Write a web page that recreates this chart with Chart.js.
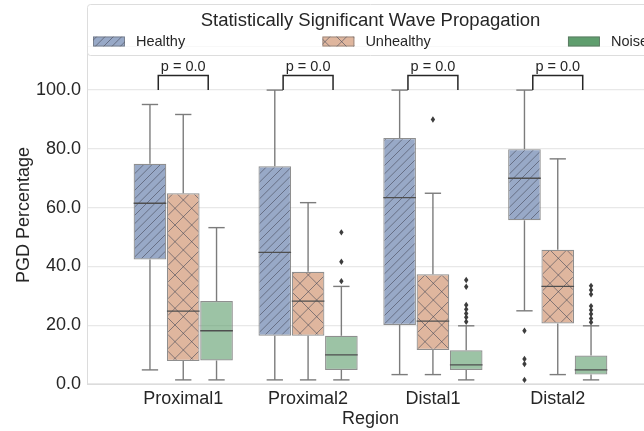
<!DOCTYPE html>
<html>
<head>
<meta charset="utf-8">
<script src="https://cdn.jsdelivr.net/npm/chart.js@4.4.1/dist/chart.umd.min.js"></script>
<style>
  html, body { margin: 0; padding: 0; background: #ffffff; overflow: hidden; }
  #wrap { width: 644px; height: 431px; overflow: hidden; position: relative; }
  #holder { position: absolute; left: 0; top: 0; width: 700px; height: 431px; }
</style>
</head>
<body>
<div id="wrap"><div id="holder"><canvas id="chart" width="700" height="431"></canvas></div></div>
<script>
// Regions on the x axis and the three recording groups
const regions = ['Proximal1', 'Proximal2', 'Distal1', 'Distal2'];
const groups = ['Healthy', 'Unhealthy', 'Noise'];

// Box statistics per region (PGD percentage)
const healthyLow  = [4.8, 1.4, 3.2, 24.9];
const healthyQ1   = [42.4, 16.4, 20.1, 55.7];
const healthyMed  = [61.5, 44.8, 63.4, 70.0];
const healthyQ3   = [74.9, 74.1, 83.7, 79.9];
const healthyHigh = [95.1, 100.0, 100.0, 100.0];
const healthyOut  = [[], [], [], [18.1, 8.5, 6.8, 1.4]];

const unhealthyLow  = [1.4, 1.4, 3.2, 3.2];
const unhealthyQ1   = [7.8, 16.4, 11.6, 20.6];
const unhealthyMed  = [24.8, 28.2, 21.4, 33.2];
const unhealthyQ3   = [64.9, 38.2, 37.3, 45.7];
const unhealthyHigh = [91.7, 61.7, 64.9, 76.6];
const unhealthyOut  = [[], [], [90.0], []];

const noiseLow  = [1.4, 1.4, 1.4, 1.4];
const noiseQ1   = [8.0, 4.8, 4.8, 3.2];
const noiseMed  = [18.1, 9.9, 6.5, 4.8];
const noiseQ3   = [28.2, 16.4, 11.5, 9.7];
const noiseHigh = [53.2, 33.2, 19.8, 19.8];
const noiseOut  = [[], [51.6, 41.6, 35.0],
                   [35.4, 33.1, 26.9, 25.4, 24.0, 22.7, 21.2],
                   [33.4, 32.0, 30.5, 26.5, 25.2, 23.8, 22.3, 21.0]];

// Significance annotations (Healthy vs Unhealthy) per region
const pLabels = ['p = 0.0', 'p = 0.0', 'p = 0.0', 'p = 0.0'];
const bracketBase = [100, 100, 100, 100];
const bracketTop  = [105, 105, 105, 105];

const yTicks = [0, 20, 40, 60, 80, 100];

const stats = [
  { low: healthyLow, q1: healthyQ1, med: healthyMed, q3: healthyQ3, high: healthyHigh, out: healthyOut },
  { low: unhealthyLow, q1: unhealthyQ1, med: unhealthyMed, q3: unhealthyQ3, high: unhealthyHigh, out: unhealthyOut },
  { low: noiseLow, q1: noiseQ1, med: noiseMed, q3: noiseQ3, high: noiseHigh, out: noiseOut }
];

const FONT = "'Liberation Sans', Arial, Helvetica, sans-serif";
const TEXT = '#262626';
const GRID = '#e8e8e8';
const SPINE = '#dcdcdc';
const WHISKER = '#7c7c7c';
const MEDIAN = '#4f4f4f';

const fills = ['rgba(88,117,164,0.62)', 'rgba(204,137,99,0.62)', 'rgba(95,158,110,0.62)'];
const solid = ['#5875a4', '#cc8963', '#5f9e6e'];
const hatches = ['//', 'x', ''];

// Build a fill pattern: solid colour plus matplotlib-like hatch lines
function makePattern(fill, hatch) {
  const size = 100;
  const c = document.createElement('canvas');
  c.width = size; c.height = size;
  const g = c.getContext('2d');
  g.fillStyle = '#ffffff';
  g.fillRect(0, 0, size, size);
  g.fillStyle = fill;
  g.fillRect(0, 0, size, size);
  g.strokeStyle = 'rgba(70,74,88,0.6)';
  g.lineWidth = 1;
  const ne = (hatch.match(/[\/x]/g) || []).length * 6;
  const nw = (hatch.match(/[\\x]/g) || []).length * 6;
  g.beginPath();
  if (ne > 0) {
    const step = size / ne;
    for (let k = -ne; k <= 2 * ne; k++) {
      const o = k * step;
      g.moveTo(o - size, 2 * size);
      g.lineTo(o + 2 * size, -size);
    }
  }
  if (nw > 0) {
    const step = size / nw;
    for (let k = -nw; k <= 2 * nw; k++) {
      const o = k * step;
      g.moveTo(o - size, -size);
      g.lineTo(o + 2 * size, 2 * size);
    }
  }
  g.stroke();
  return g.createPattern(c, 'repeat');
}

const patternFills = fills.map((f, i) => hatches[i] ? makePattern(f, hatches[i]) : f);

const datasets = groups.map((name, d) => ({
  label: name,
  data: regions.map((r, i) => ({ x: i, y: [stats[d].q1[i], stats[d].q3[i]] })),
  backgroundColor: patternFills[d],
  borderColor: 'rgba(95,95,95,0.7)',
  borderWidth: 1.2,
  borderSkipped: false,
  categoryPercentage: 0.8,
  barPercentage: 0.98
}));

function strokeLine(ctx, x1, y1, x2, y2) {
  ctx.beginPath();
  ctx.moveTo(x1, y1);
  ctx.lineTo(x2, y2);
  ctx.stroke();
}

// Whiskers, caps, medians and outliers around each box
const boxDecor = {
  id: 'boxDecor',
  afterDatasetsDraw(chart) {
    const ctx = chart.ctx;
    const ys = chart.scales.y;
    ctx.save();
    stats.forEach((s, d) => {
      const meta = chart.getDatasetMeta(d);
      meta.data.forEach((bar, i) => {
        const cx = bar.x, w = bar.width;
        const yq1 = ys.getPixelForValue(s.q1[i]);
        const yq3 = ys.getPixelForValue(s.q3[i]);
        const ylo = ys.getPixelForValue(s.low[i]);
        const yhi = ys.getPixelForValue(s.high[i]);
        const ymed = ys.getPixelForValue(s.med[i]);
        ctx.strokeStyle = WHISKER;
        ctx.lineWidth = 1.4;
        strokeLine(ctx, cx, yq3, cx, yhi);
        strokeLine(ctx, cx, yq1, cx, ylo);
        strokeLine(ctx, cx - w / 4, yhi, cx + w / 4, yhi);
        strokeLine(ctx, cx - w / 4, ylo, cx + w / 4, ylo);
        ctx.strokeStyle = MEDIAN;
        strokeLine(ctx, cx - w / 2, ymed, cx + w / 2, ymed);
        ctx.fillStyle = '#3d3d3d';
        s.out[i].forEach(v => {
          const py = ys.getPixelForValue(v);
          ctx.beginPath();
          ctx.moveTo(cx, py - 3.2);
          ctx.lineTo(cx + 2.2, py);
          ctx.lineTo(cx, py + 3.2);
          ctx.lineTo(cx - 2.2, py);
          ctx.closePath();
          ctx.fill();
        });
      });
    });

    // significance brackets
    const xs = chart.scales.x;
    ctx.strokeStyle = '#262626';
    ctx.lineWidth = 1.5;
    ctx.fillStyle = TEXT;
    ctx.font = '14.5px ' + FONT;
    ctx.textAlign = 'center';
    ctx.textBaseline = 'alphabetic';
    regions.forEach((r, i) => {
      const x1 = xs.getPixelForValue(i - 0.2);
      const x2 = xs.getPixelForValue(i + 0.2);
      const yb = ys.getPixelForValue(bracketBase[i]);
      const yt = ys.getPixelForValue(bracketTop[i]);
      ctx.beginPath();
      ctx.moveTo(x1, yb);
      ctx.lineTo(x1, yt);
      ctx.lineTo(x2, yt);
      ctx.lineTo(x2, yb);
      ctx.stroke();
      ctx.fillText(pLabels[i], (x1 + x2) / 2, yt - 4.5);
    });
    ctx.restore();
  }
};

// Top spine and the framed legend with its title
const frameAndLegend = {
  id: 'frameAndLegend',
  beforeDatasetsDraw(chart) {
    const { ctx, chartArea } = chart;
    ctx.save();
    ctx.strokeStyle = SPINE;
    ctx.lineWidth = 1;
    strokeLine(ctx, chartArea.left, chartArea.top + 0.5, chartArea.right, chartArea.top + 0.5);
    ctx.restore();
  },
  afterDraw(chart) {
    const { ctx, chartArea } = chart;
    const L = chartArea.left, R = chartArea.right;
    const top = 4, bottom = 55;
    ctx.save();
    ctx.beginPath();
    if (ctx.roundRect) ctx.roundRect(L + 0.5, top + 0.5, R - L - 1, bottom - top, 3);
    else ctx.rect(L + 0.5, top + 0.5, R - L - 1, bottom - top);
    ctx.fillStyle = 'rgba(255,255,255,0.8)';
    ctx.fill();
    ctx.strokeStyle = '#dddddd';
    ctx.lineWidth = 1;
    ctx.stroke();

    ctx.fillStyle = TEXT;
    ctx.font = '18.5px ' + FONT;
    ctx.textAlign = 'center';
    ctx.textBaseline = 'alphabetic';
    ctx.fillText('Statistically Significant Wave Propagation', (L + R) / 2, 25.5);

    ctx.font = '14.5px ' + FONT;
    const handleW = 32, handleH = 10, gapText = 11, pad = 6;
    const widths = groups.map(g => handleW + gapText + ctx.measureText(g).width);
    const total = widths.reduce((a, b) => a + b, 0);
    const gap = (R - L - 2 * pad - total) / (groups.length - 1);
    let x = L + pad;
    const rowY = 41.5;
    groups.forEach((g, k) => {
      const legendFill = k === 2 ? solid[2] : patternFills[k];
      ctx.fillStyle = legendFill;
      ctx.fillRect(x, rowY - handleH / 2, handleW, handleH);
      ctx.strokeStyle = 'rgba(90,90,90,0.6)';
      ctx.lineWidth = 0.8;
      ctx.strokeRect(x + 0.5, rowY - handleH / 2 + 0.5, handleW - 1, handleH - 1);
      ctx.fillStyle = TEXT;
      ctx.textAlign = 'left';
      ctx.textBaseline = 'middle';
      ctx.fillText(g, x + handleW + gapText, rowY);
      x += widths[k] + gap;
    });
    ctx.restore();
  }
};

new Chart(document.getElementById('chart'), {
  type: 'bar',
  data: { datasets },
  plugins: [boxDecor, frameAndLegend],
  options: {
    responsive: false,
    animation: false,
    devicePixelRatio: 1,
    layout: { padding: { left: 0, top: 46, right: 46, bottom: 0 } },
    plugins: { legend: { display: false }, tooltip: { enabled: false } },
    scales: {
      x: {
        type: 'linear',
        offset: false,
        min: -0.771,
        max: 3.771,
        afterFit(scale) { scale.height = 47; },
        afterBuildTicks(scale) { scale.ticks = regions.map((r, i) => ({ value: i })); },
        grid: { display: false, drawTicks: false, offset: false },
        border: { display: true, color: SPINE, width: 1 },
        ticks: {
          padding: 4,
          color: TEXT,
          font: { family: FONT, size: 18 },
          callback: (v) => regions[v] ?? ''
        },
        title: {
          display: true, text: 'Region', color: TEXT,
          font: { family: FONT, size: 18 },
          padding: { top: 0, bottom: 1 }
        }
      },
      y: {
        min: 0,
        max: 115,
        afterFit(scale) { scale.width = 87; },
        afterBuildTicks(scale) { scale.ticks = yTicks.map(v => ({ value: v })); },
        grid: { color: GRID, lineWidth: 1.2, drawTicks: false },
        border: { display: true, color: SPINE, width: 1 },
        ticks: {
          padding: 6,
          color: TEXT,
          font: { family: FONT, size: 18 },
          callback: (v) => Number(v).toFixed(1)
        },
        title: {
          display: true, text: 'PGD Percentage', color: TEXT,
          font: { family: FONT, size: 18 },
          padding: { top: 13, bottom: 0 }
        }
      }
    }
  }
});
</script>
</body>
</html>
